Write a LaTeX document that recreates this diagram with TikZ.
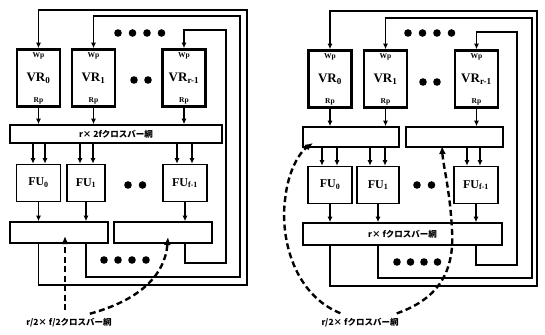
\documentclass[tikz,border=0pt]{standalone}
\usepackage{fontspec}
\setmainfont{Liberation Serif}
\newfontfamily\jpfont{Noto Sans CJK JP}
\usetikzlibrary{arrows.meta}
\tikzset{
  wire/.style={line width=1.6pt},
  arr/.style={wire,-{Latex[length=5.5pt,width=5pt]}},
  port/.style={font=\bfseries\fontsize{7.5}{7.5}\selectfont,inner sep=1pt},
  vrbox/.style={draw,line width=2.6pt,minimum width=43pt,minimum height=57pt,inner sep=0pt,
    font=\bfseries\fontsize{13}{13}\selectfont,
    label={[port,anchor=north,yshift=-3pt]north:Wp},
    label={[port,anchor=south,yshift=3pt]south:Rp}},
  fubox/.style={draw,line width=1.6pt,minimum height=37pt,inner sep=0pt,font=\bfseries\fontsize{12}{12}\selectfont},
  xbar/.style={draw,line width=1.6pt,inner sep=0pt,font=\jpfont\bfseries\fontsize{8.5}{8.5}\selectfont},
  hint/.style={line width=2.4pt,dash pattern=on 6pt off 3.5pt,-{Latex[length=8pt,width=7pt]}},
  captext/.style={font=\jpfont\bfseries\fontsize{8.5}{8.5}\selectfont},
}
\begin{document}
\begin{tikzpicture}[x=1pt,y=-1pt]
\useasboundingbox (0,0) rectangle (545,334);
% ===== left: r x 2f crossbar =====
% register files
\node[vrbox] (lvr0) at ( 38.5,78) {VR\textsubscript{0}};
\node[vrbox] (lvr1) at ( 93.5,78) {VR\textsubscript{1}};
\node[vrbox] (lvrr) at (184,  78) {VR\textsubscript{r-1}};
% read crossbar
\node[xbar,minimum width=212pt,minimum height=18pt] (lxb) at (116,134) {r× 2fクロスバー網};
% functional units
\node[fubox,minimum width=44pt] (lfu0) at ( 38.5,183) {FU\textsubscript{0}};
\node[fubox,minimum width=38pt] (lfu1) at ( 86,  183) {FU\textsubscript{1}};
\node[fubox,minimum width=44pt] (lfuf) at (185,  183) {FU\textsubscript{f-1}};
% write crossbars
\node[xbar,minimum width=98pt,minimum height=21pt] (lob0) at ( 59,232.5) {};
\node[xbar,minimum width=98pt,minimum height=21pt] (lob1) at (163,232.5) {};
% coordinates
\coordinate (la0) at (247,285);%
\coordinate (lb0) at (247, 10);%
\coordinate (la1) at (240,277);%
\coordinate (lb1) at (240, 16);%
\coordinate (la2) at (226,263);%
\coordinate (lb2) at (226, 30);%
\coordinate (lt0) at ( 65,236);%
\coordinate (lt1) at (168,237);%
% wires
\foreach \n in {lvr0,lvr1,lvrr} \draw[arr] (\n.south) -- (\n.south |- lxb.north);
\foreach \x/\f in {33/lfu0,45/lfu0,80/lfu1,93/lfu1,177/lfuf,192/lfuf}
  \draw[arr] (\x,0 |- lxb.south) -- (\x,0 |- \f.north);
\draw[arr] (lfu0.south) -- (lfu0.south |- lob0.north);
\draw[arr] (lfu1.south) -- (lfu1.south |- lob0.north);
\draw[arr] (lfuf.south) -- (lfuf.south |- lob1.north);
\draw[arr] (lob0.south -| lfu0.south) |- (la0) -- (lb0) -| (lvr0.north);
\draw[arr] (lob0.south -| lfu1.south) |- (la1) -- (lb1) -| (lvr1.north);
\draw[arr] (lob1.south -| lfuf.south) |- (la2) -- (lb2) -| (lvrr.north);
% dots
\foreach \x in {118,132.5,147,161.5} \fill (\x,33) circle (3.8pt);
\foreach \x in {134,148} \fill (\x,80) circle (3.8pt);
\foreach \x in {128,142.5} \fill (\x,185) circle (3.8pt);
\foreach \x in {104,118,132,146} \fill (\x,260) circle (3.8pt);
% dashed pointers
\node[captext] (llab) at (69,323) {r/2× f/2クロスバー網};
\draw[hint,shorten <=5pt] (llab.north -| lt0) -- (lt0);
\draw[hint,shorten <=5pt] (llab.north -| 85,0) .. controls (140,300) and (165,275) .. (lt1);
% ===== right: r x f crossbar =====
% register files
\node[vrbox] (rvr0) at (330,  79) {VR\textsubscript{0}};
\node[vrbox] (rvr1) at (385.5,79) {VR\textsubscript{1}};
\node[vrbox] (rvrr) at (476.5,79) {VR\textsubscript{r-1}};
% read crossbars
\node[xbar,minimum width=96pt,minimum height=20pt] (rxb0) at (351,  137) {};
\node[xbar,minimum width=97pt,minimum height=20pt] (rxb1) at (454.5,137) {};
% functional units
\node[fubox,minimum width=44pt] (rfu0) at (330,185) {FU\textsubscript{0}};
\node[fubox,minimum width=42pt] (rfu1) at (378,185) {FU\textsubscript{1}};
\node[fubox,minimum width=44pt] (rfuf) at (476,185) {FU\textsubscript{f-1}};
% write crossbar
\node[xbar,minimum width=199pt,minimum height=22pt] (rob) at (402.5,234) {r× fクロスバー網};
% coordinates
\coordinate (ra0) at (537,286);%
\coordinate (rb0) at (537, 11);%
\coordinate (ra1) at (532,278);%
\coordinate (rb1) at (532, 18);%
\coordinate (ra2) at (517,265);%
\coordinate (rb2) at (517, 32);%
\coordinate (rt0) at (313,143);%
\coordinate (rt1) at (442,146);%
% wires
\draw[arr] (rvr0.south) -- (rvr0.south |- rxb0.north);
\draw[arr] (rvr1.south) -- (rvr1.south |- rxb0.north);
\draw[arr] (rvrr.south) -- (rvrr.south |- rxb1.north);
\foreach \x/\f in {322/rfu0,337/rfu0,370/rfu1,385/rfu1}
  \draw[arr] (\x,0 |- rxb0.south) -- (\x,0 |- \f.north);
\foreach \x/\f in {467/rfuf,480/rfuf}
  \draw[arr] (\x,0 |- rxb1.south) -- (\x,0 |- \f.north);
\foreach \n in {rfu0,rfu1,rfuf} \draw[arr] (\n.south) -- (\n.south |- rob.north);
\draw[arr] (rob.south -| rfu0.south) |- (ra0) -- (rb0) -| (rvr0.north);
\draw[arr] (rob.south -| rfu1.south) |- (ra1) -- (rb1) -| (rvr1.north);
\draw[arr] (rob.south -| rfuf.south) |- (ra2) -- (rb2) -| (rvrr.north);
% dots
\foreach \x in {408,422.5,437,451.5} \fill (\x,33) circle (3.8pt);
\foreach \x in {423,437} \fill (\x,82) circle (3.8pt);
\foreach \x in {417,431.5} \fill (\x,185) circle (3.8pt);
\foreach \x in {397,410.5,424,437.5} \fill (\x,262) circle (3.8pt);
% dashed pointers
\node[captext] (rlab) at (360,323) {r/2× fクロスバー網};
\draw[hint,shorten <=5pt] (rlab.north -| 345,0) .. controls (295,295) and (280,240) .. (285,200)
  .. controls (288,170) and (300,152) .. (rt0);
\draw[hint,shorten <=5pt] (rlab.north -| 392,0) .. controls (435,300) and (455,275) .. (452,230)
  .. controls (450,190) and (443,165) .. (rt1);
\end{tikzpicture}
\end{document}
